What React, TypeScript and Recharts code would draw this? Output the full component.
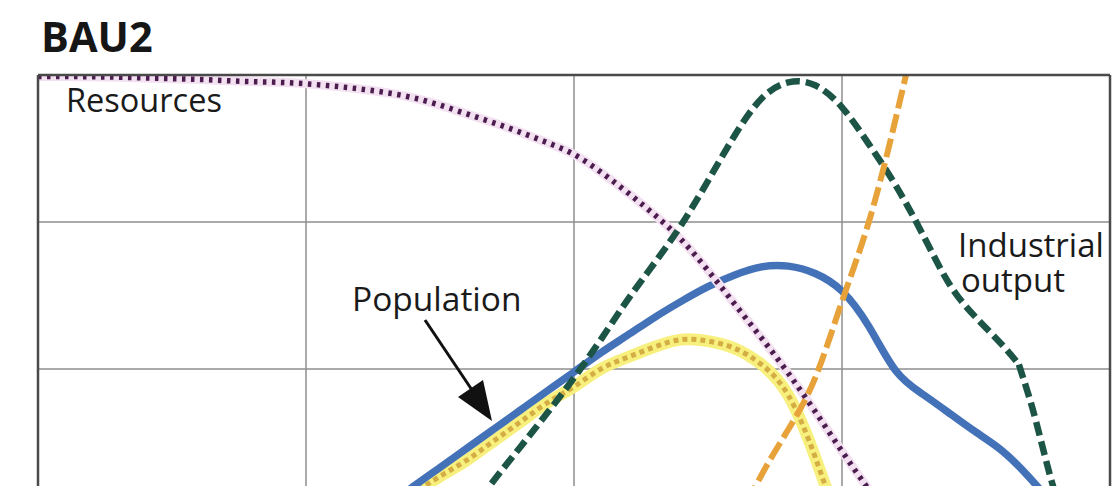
import { LineChart, Line, XAxis, YAxis, CartesianGrid, ReferenceLine } from "recharts"

// World3 "BAU2" run (grid unit = one row)
const YEAR_TICKS = [1900, 1950, 2000, 2050, 2100]
const VALUE_TICKS = [0, 1, 2, 3, 4]

// 1900, 1905, ... 2100
const YEARS = [
  1900, 1905, 1910, 1915, 1920, 1925, 1930, 1935, 1940, 1945,
  1950, 1955, 1960, 1965, 1970, 1975, 1980, 1985, 1990, 1995,
  2000, 2005, 2010, 2015, 2020, 2025, 2030, 2035, 2040, 2045,
  2050, 2055, 2060, 2065, 2070, 2075, 2080, 2085, 2090, 2095, 2100,
]

const RESOURCES = [
  3.99, 3.99, 3.988, 3.985, 3.98, 3.975, 3.97, 3.962, 3.955, 3.95,
  3.94, 3.925, 3.905, 3.88, 3.845, 3.795, 3.735, 3.675, 3.61, 3.54,
  3.46, 3.34, 3.2, 3.05, 2.88, 2.67, 2.44, 2.21, 1.97, 1.71,
  1.44, 1.18, 0.95, 0.76, 0.6, 0.49, 0.4, 0.33, 0.28, 0.24, 0.2,
]

const POPULATION = [
  0.35, 0.37, 0.39, 0.41, 0.44, 0.47, 0.5, 0.54, 0.58, 0.64,
  0.71, 0.8, 0.92, 1.06, 1.2, 1.33, 1.46, 1.59, 1.72, 1.85,
  1.98, 2.11, 2.23, 2.35, 2.46, 2.56, 2.64, 2.695, 2.7, 2.65,
  2.53, 2.29, 1.99, 1.83, 1.7, 1.57, 1.44, 1.26, 1.06, 0.9, 0.78,
]

const FOOD = [
  0.75, 0.77, 0.79, 0.8, 0.82, 0.85, 0.87, 0.9, 0.92, 0.95,
  0.98, 1.0, 1.04, 1.09, 1.16, 1.27, 1.38, 1.51, 1.64, 1.77,
  1.88, 2.0, 2.08, 2.15, 2.2, 2.19, 2.14, 2.03, 1.82, 1.4,
  0.92, 0.68, 0.55, 0.47, 0.42, 0.4, 0.38, 0.36, 0.35, 0.34, 0.33,
]

const POLLUTION = [
  0.05, 0.05, 0.06, 0.06, 0.07, 0.07, 0.08, 0.08, 0.09, 0.09,
  0.1, 0.12, 0.14, 0.17, 0.2, 0.23, 0.26, 0.28, 0.3, 0.32,
  0.35, 0.4, 0.45, 0.53, 0.62, 0.75, 0.95, 1.28, 1.59, 1.94,
  2.46, 3.0, 3.7, 4.45, 5.0, 5.35, 5.6, 5.72, 5.8, 5.78, 5.7,
]

// industrial output breaks sharply around 2083, so it is kept as two runs
const INDUSTRY_YEARS = [
  1900, 1905, 1910, 1915, 1920, 1925, 1930, 1935, 1940, 1945,
  1950, 1955, 1960, 1965, 1970, 1975, 1980, 1985, 1990, 1995,
  2000, 2005, 2010, 2015, 2020, 2025, 2030, 2035, 2040, 2045,
  2050, 2055, 2060, 2065, 2070, 2075, 2080, 2083,
]
const INDUSTRY = [
  0.1, 0.11, 0.12, 0.13, 0.15, 0.17, 0.2, 0.23, 0.26, 0.3,
  0.35, 0.41, 0.49, 0.6, 0.73, 0.87, 1.02, 1.24, 1.47, 1.7,
  1.94, 2.2, 2.47, 2.72, 2.98, 3.28, 3.59, 3.84, 3.95, 3.93,
  3.78, 3.53, 3.25, 2.92, 2.58, 2.35, 2.16, 2.03,
]
const INDUSTRY_TAIL_YEARS = [2083, 2085, 2090, 2095, 2100]
const INDUSTRY_TAIL = [2.03, 1.8, 1.13, 0.7, 0.45]

const toRows = (years: number[], values: number[]) => years.map((year, i) => ({ year, v: values[i] }))

const resources = toRows(YEARS, RESOURCES)
const population = toRows(YEARS, POPULATION)
const food = toRows(YEARS, FOOD)
const pollution = toRows(YEARS, POLLUTION)
const industry = toRows(INDUSTRY_YEARS, INDUSTRY)
const industryTail = toRows(INDUSTRY_TAIL_YEARS, INDUSTRY_TAIL)

const FONT = "'Open Sans', 'Noto Sans', sans-serif"
const FRAME = "#4a4a4a"
const INK = "#1a1a1a"

export default function App() {
  return (
    <div style={{ position: "absolute", left: 0, top: 0, width: 1120, height: 486, overflow: "hidden", background: "#fff" }}>
      <LineChart width={1120} height={700} margin={{ top: 75, right: 10, bottom: 37, left: 38 }}>
        <CartesianGrid stroke="#8e8e8e" strokeWidth={1.5} />
        <XAxis type="number" dataKey="year" domain={[1900, 2100]} ticks={YEAR_TICKS} hide allowDataOverflow />
        <YAxis type="number" domain={[0, 4]} ticks={VALUE_TICKS} hide allowDataOverflow />

        <Line data={food} dataKey="v" type="natural" stroke="#f8f07e" strokeWidth={12} dot={false} isAnimationActive={false} />
        <Line data={food} dataKey="v" type="natural" stroke="#d4ae45" strokeWidth={5} strokeDasharray="5 4" dot={false} isAnimationActive={false} />

        <Line data={population} dataKey="v" type="natural" stroke="#4472b8" strokeWidth={7.5} dot={false} isAnimationActive={false} />

        <Line data={resources} dataKey="v" type="natural" stroke="#f3e0f1" strokeWidth={9} dot={false} isAnimationActive={false} />
        <Line data={resources} dataKey="v" type="natural" stroke="#4b1d4f" strokeWidth={5.5} strokeDasharray="3.5 5.5" dot={false} isAnimationActive={false} />

        <Line data={industry} dataKey="v" type="natural" stroke="#1c5446" strokeWidth={6.5} strokeDasharray="14 6" dot={false} isAnimationActive={false} />
        <Line data={industryTail} dataKey="v" type="monotone" stroke="#1c5446" strokeWidth={6.5} strokeDasharray="14 6" dot={false} isAnimationActive={false} />

        <Line data={pollution} dataKey="v" type="natural" stroke="#e8a23a" strokeWidth={6} strokeDasharray="19 6" dot={false} isAnimationActive={false} />

        <ReferenceLine y={4} stroke={FRAME} strokeWidth={2.5} />
        <ReferenceLine x={1900} stroke={FRAME} strokeWidth={2.5} />
        <ReferenceLine x={2100} stroke={FRAME} strokeWidth={2.5} />
      </LineChart>

      <svg width={1120} height={486} style={{ position: "absolute", left: 0, top: 0, pointerEvents: "none" }}>
        <text x={41} y={52} fontFamily={FONT} fontWeight={700} fontSize={41.5} fill="#161616">BAU2</text>
        <text x={66} y={112} fontFamily={FONT} fontSize={32.5} fill={INK}>Resources</text>
        <text x={352} y={311} fontFamily={FONT} fontSize={33.5} fill={INK}>Population</text>
        <text x={958} y={257} fontFamily={FONT} fontSize={33} fill={INK}>Industrial</text>
        <text x={961} y={292} fontFamily={FONT} fontSize={33} fill={INK}>output</text>
        <line x1={425} y1={320} x2={472} y2={390} stroke="#111" strokeWidth={3} />
        <polygon points="492,421 458,397 483,380" fill="#111" />
      </svg>
    </div>
  )
}
